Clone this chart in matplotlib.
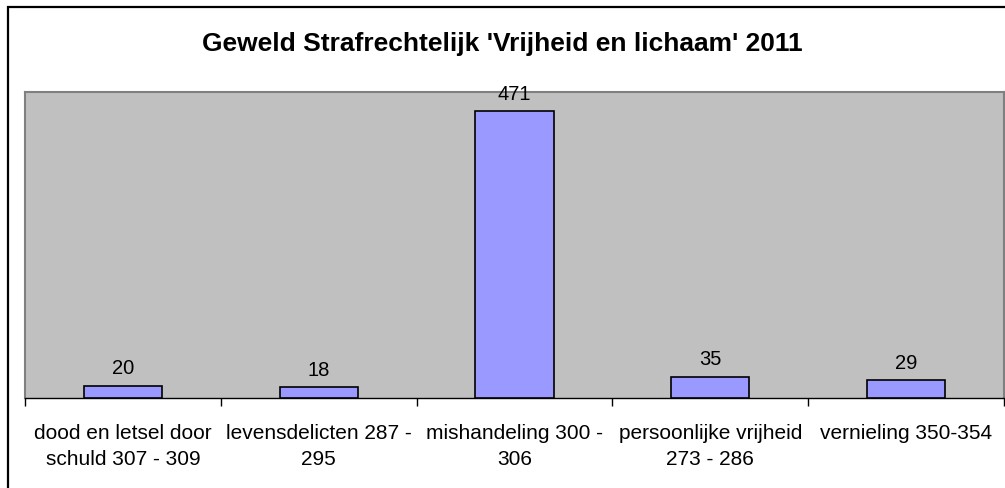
import matplotlib
matplotlib.use("Agg")
import matplotlib.pyplot as plt
from matplotlib.patches import Rectangle

categories = ["dood en letsel door\nschuld 307 - 309", "levensdelicten 287 -\n295",
              "mishandeling 300 -\n306", "persoonlijke vrijheid\n273 - 286", "vernieling 350-354"]
values = [20, 18, 471, 35, 29]
title = "Geweld Strafrechtelijk 'Vrijheid en lichaam' 2011"

plt.rcParams['font.family'] = ['Liberation Sans', 'DejaVu Sans']

W, H = 1005, 489
fig = plt.figure(figsize=(W / 100, H / 100), dpi=100)
fig.patches.append(Rectangle((8 / W, -10 / H), (W + 10) / W, (H + 2) / H, transform=fig.transFigure,
                             fill=False, edgecolor='black', linewidth=1.6, zorder=10))

left, right, top, bottom = 25, 1004, 93, 399
ax = fig.add_axes([left / W, 1 - bottom / H, (right - left) / W, (bottom - top) / H])
ax.set_facecolor('#C0C0C0')
x = list(range(len(categories)))
bars = ax.bar(x, values, width=0.4, color='#9999FF', edgecolor='black', linewidth=1.2, zorder=3)
ax.set_xlim(-0.5, len(categories) - 0.5)
ax.set_ylim(0, 502)
for xi, v in zip(x, values):
    ax.annotate(str(v), (xi, v), xytext=(0, 6), textcoords='offset points',
                ha='center', va='bottom', fontsize=14.5, clip_on=False)
ax.set_yticks([])
ax.set_xticks([i - 0.5 for i in range(len(categories) + 1)], minor=False)
ax.set_xticklabels([])
ax.set_xticks(x, minor=True)
ax.set_xticklabels(categories, minor=True, fontsize=15, linespacing=1.5)
ax.tick_params(axis='x', which='major', length=6, width=1, color='black', direction='out')
ax.tick_params(axis='x', which='minor', length=0, pad=18)
for s in ['top', 'left', 'right']:
    ax.spines[s].set_color('#808080')
    ax.spines[s].set_linewidth(1.5)
ax.spines['bottom'].set_color('black')
ax.spines['bottom'].set_linewidth(1)

fig.text(0.5, 1 - 44 / H, title, ha='center', va='center', fontsize=19, fontweight='bold')

fig.savefig("out.png", dpi=100)
